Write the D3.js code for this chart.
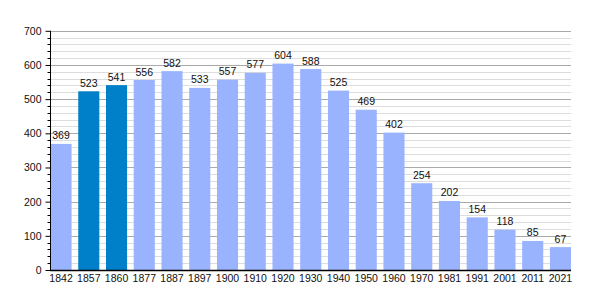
<!DOCTYPE html>
<html>
<head>
<meta charset="utf-8">
<script src="https://cdn.jsdelivr.net/npm/d3@7"></script>
<style>
  body { margin: 0; background: #fff; }
  text { font-family: "Liberation Sans", Arial, sans-serif; font-size: 10.5px; fill: #111; }
</style>
</head>
<body>
<div id="chart"></div>
<script>
let years = ['1842', '1857', '1860', '1877', '1887', '1897', '1900', '1910', '1920', '1930',
             '1940', '1950', '1960', '1970', '1981', '1991', '2001', '2011', '2021'];
let population = [369, 523, 541, 556, 582, 533, 557, 577, 604, 588,
                   525, 469, 402, 254, 202, 154, 118, 85, 67];
let highlighted = ['1857', '1860'];
let yTicks = [0, 100, 200, 300, 400, 500, 600, 700];

let width = 600, height = 300;
let plotLeft = 50.5, plotRight = 571, plotTop = 30.8, plotBottom = 270;

let svg = d3.select('#chart').append('svg')
            .attr('width', width)
            .attr('height', height);

let xScale = d3.scaleBand()
               .domain(years)
               .range([plotLeft, plotRight])
               .paddingInner(0.24)
               .paddingOuter(0);
let yScale = d3.scaleLinear()
               .domain([0, 700])
               .range([plotBottom, plotTop]);

let minorTicks = d3.range(0, 701, 20).filter(v => v % 100 !== 0);

// minor grid every 20
svg.append('g')
   .selectAll('line')
   .data(minorTicks)
   .enter()
   .append('line')
   .attr('x1', plotLeft).attr('x2', plotRight)
   .attr('y1', v => Math.round(yScale(v)) + 0.5)
   .attr('y2', v => Math.round(yScale(v)) + 0.5)
   .style('stroke', '#dddddd');

// major grid
svg.append('g')
   .selectAll('line')
   .data(yTicks.slice(1))
   .enter()
   .append('line')
   .attr('x1', plotLeft).attr('x2', plotRight)
   .attr('y1', v => Math.round(yScale(v)) + 0.5)
   .attr('y2', v => Math.round(yScale(v)) + 0.5)
   .style('stroke', '#aaa');

// bars
svg.append('g')
   .selectAll('rect')
   .data(population)
   .enter()
   .append('rect')
   .attr('x', (v, i) => xScale(years[i]))
   .attr('width', xScale.bandwidth())
   .attr('y', v => yScale(v))
   .attr('height', v => plotBottom - yScale(v))
   .style('fill', (v, i) => highlighted.includes(years[i]) ? '#0080c8' : '#99b3ff');

// value labels
svg.append('g')
   .selectAll('text')
   .data(population)
   .enter()
   .append('text')
   .attr('x', (v, i) => xScale(years[i]) + xScale.bandwidth() / 2)
   .attr('y', v => yScale(v) - 4.5)
   .attr('text-anchor', 'middle')
   .text(v => v);

// y axis
let yAxis = svg.append('g')
               .attr('transform', `translate(${plotLeft}, 0)`)
               .call(d3.axisLeft(yScale).tickValues(yTicks).tickSize(5).tickPadding(4));
yAxis.select('.domain').remove();
yAxis.selectAll('line').style('stroke', '#000');
yAxis.selectAll('text').style('font-size', '10.5px').style('fill', '#111').attr('font-family', null);

// minor ticks
svg.append('g')
   .selectAll('line')
   .data(minorTicks)
   .enter()
   .append('line')
   .attr('x1', plotLeft - 3).attr('x2', plotLeft)
   .attr('y1', v => Math.round(yScale(v)) + 0.5)
   .attr('y2', v => Math.round(yScale(v)) + 0.5)
   .style('stroke', '#000');

svg.append('line')
   .attr('x1', plotLeft).attr('x2', plotLeft)
   .attr('y1', plotTop).attr('y2', plotBottom)
   .style('stroke', '#000');

// x axis
let xAxis = svg.append('g')
               .attr('transform', `translate(0, ${plotBottom})`)
               .call(d3.axisBottom(xScale).tickSize(0).tickPadding(5));
xAxis.select('.domain').remove();
xAxis.selectAll('text').style('font-size', '10.5px').style('fill', '#111').attr('font-family', null);

svg.append('line')
   .attr('x1', plotLeft - 0.5).attr('x2', plotRight)
   .attr('y1', plotBottom + 0.5).attr('y2', plotBottom + 0.5)
   .style('stroke', '#000')
   .style('stroke-width', 1.5);
</script>
</body>
</html>
